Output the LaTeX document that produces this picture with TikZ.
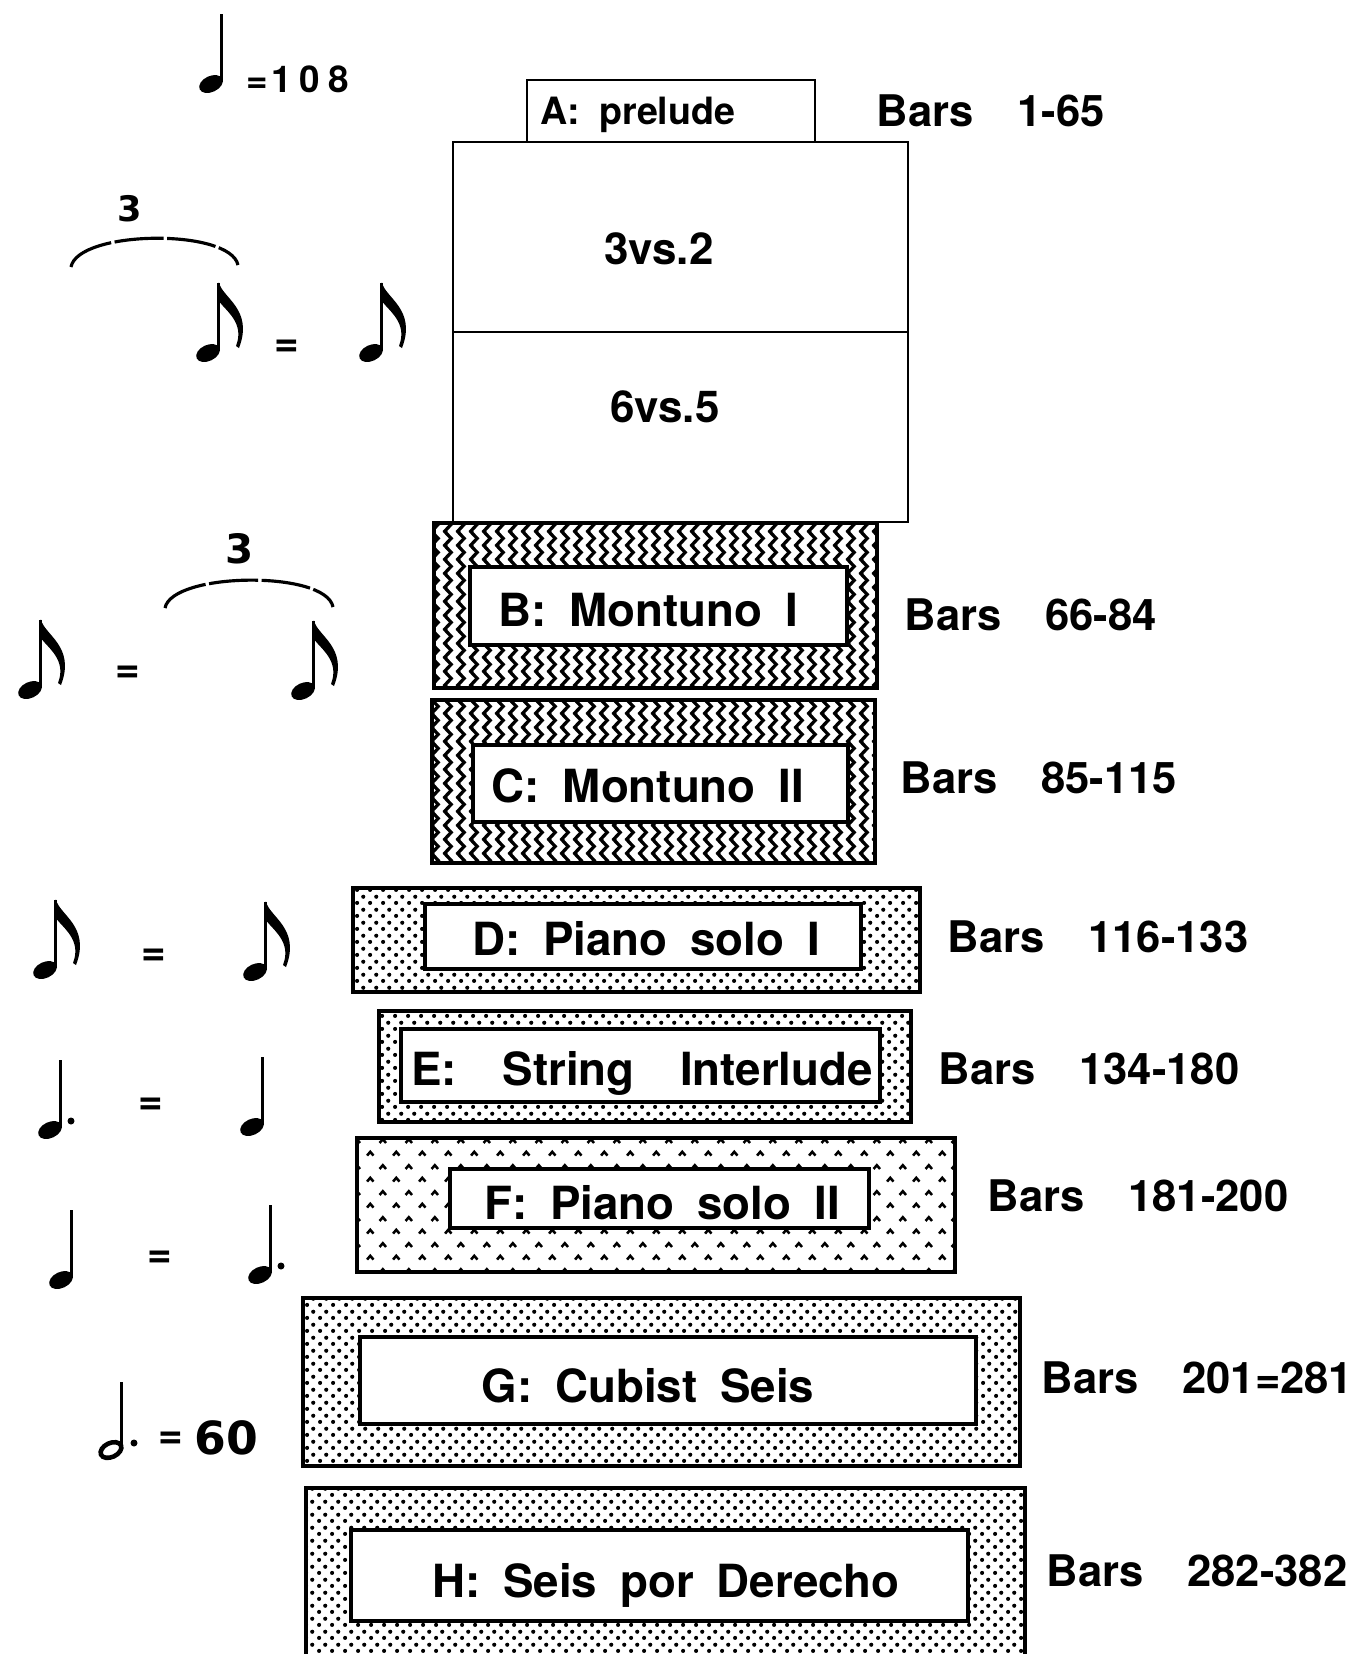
\documentclass[tikz,border=0pt]{standalone}
\usepackage{fontspec}
\setmainfont{TeX Gyre Heros}
\newfontfamily\tempofont{DejaVu Sans}
\usetikzlibrary{patterns}

% fill patterns of the bands
\pgfdeclarepatternformonly{montuno}{\pgfqpoint{0pt}{0pt}}{\pgfqpoint{3.7pt}{4pt}}{\pgfqpoint{3.7pt}{4pt}}{%
  \pgfsetlinewidth{1pt}%
  \pgfpathmoveto{\pgfqpoint{2.8pt}{-2pt}}%
  \pgfpathlineto{\pgfqpoint{0.9pt}{0pt}}%
  \pgfpathlineto{\pgfqpoint{2.8pt}{2pt}}%
  \pgfpathlineto{\pgfqpoint{0.9pt}{4pt}}%
  \pgfpathlineto{\pgfqpoint{2.8pt}{6pt}}%
  \pgfusepath{stroke}}
\pgfdeclarepatternformonly{sprinkle}{\pgfqpoint{0pt}{0pt}}{\pgfqpoint{3.6pt}{3.6pt}}{\pgfqpoint{3.6pt}{3.6pt}}{%
  \pgfpathcircle{\pgfqpoint{0.9pt}{0.9pt}}{0.6pt}%
  \pgfpathcircle{\pgfqpoint{2.7pt}{2.7pt}}{0.6pt}%
  \pgfusepath{fill}}
\pgfdeclarepatternformonly{carets}{\pgfqpoint{0pt}{0pt}}{\pgfqpoint{7.4pt}{7.4pt}}{\pgfqpoint{7.4pt}{7.4pt}}{%
  \pgfsetlinewidth{0.75pt}%
  \pgfpathmoveto{\pgfqpoint{0.9pt}{1.3pt}}%
  \pgfpathlineto{\pgfqpoint{1.85pt}{2.4pt}}%
  \pgfpathlineto{\pgfqpoint{2.8pt}{1.3pt}}%
  \pgfpathmoveto{\pgfqpoint{4.6pt}{5pt}}%
  \pgfpathlineto{\pgfqpoint{5.55pt}{6.1pt}}%
  \pgfpathlineto{\pgfqpoint{6.5pt}{5pt}}%
  \pgfusepath{stroke}}

\begin{document}
\begin{tikzpicture}[x=0.1mm,y=-0.1mm,
    lbl/.style={font={\bfseries\fontsize{#1}{#1}\selectfont\spaceskip=.5em\relax}, inner sep=0pt, anchor=base},
    lbl/.default=13,
    bars/.style={font={\bfseries\fontsize{12.4}{14}\selectfont\spaceskip=1em\relax}, inner sep=0pt, anchor=base west},
    eqsign/.style={font=\bfseries\fontsize{12}{14}\selectfont, inner sep=0pt},
    tupnum/.style={font={\tempofont\bfseries\fontsize{#1}{#1}\selectfont}, inner sep=0pt},
    thinbox/.style={line width=0.6pt},
    band/.style={line width=1.3pt},
    inbox/.style={fill=white, line width=1.1pt},
    tuparc/.style={line width=0.9pt, dash pattern=on 14pt off 1pt},
    stemline/.style={line width=0.85pt},
    quarter/.pic={
      \fill[rotate=25] (0,0) ellipse [x radius=12.5, y radius=8];
      \draw[stemline] (10.8,-2) -- (10.8,-70);},
    eighth/.pic={
      \pic {quarter};
      \fill (10.8,-71) .. controls (14,-55) and (46,-44) .. (31,-5) -- (28,-7)
        .. controls (37,-30) and (18,-42) .. (10.8,-52) -- cycle;},
    dotquarter/.pic={
      \pic {quarter};
      \fill (21,-9) circle [radius=3.5];},
    halfdot/.pic={
      \draw[line width=1.3pt, rotate=25] (0,0) ellipse [x radius=11, y radius=7];
      \draw[stemline] (10.5,-2) -- (10.5,-68);
      \fill (23,-7) circle [radius=3.5];}
  ]
  \useasboundingbox (0,0) rectangle (1364,1654);
  \clip (0,0) rectangle (1364,1654);

  % tempo changes, left column
  \pic (tempo) at (211,84) {quarter};
  \node[font={\bfseries\fontsize{10.5}{12}\selectfont}, inner sep=0pt, anchor=base west] (mm108) at (246,92) {=\kern1pt1\kern2.2pt0\kern2.2pt8};

  \node[tupnum=10] (tripA) at (130,209) {3};
  \draw[tuparc] (71,267) .. controls (78,230) and (230,228) .. (238,265);
  \pic (aL) at (208,353) {eighth};
  \node[eqsign] (eqA) at (287,348) {=};
  \pic (aR) at (371,353) {eighth};

  \node[tupnum=11.5] (tripB) at (240,549) {3};
  \draw[tuparc] (165,608) .. controls (172,572) and (326,570) .. (333,607);
  \pic (bL) at (30,690) {eighth};
  \node[eqsign] (eqB) at (128,674) {=};
  \pic (bR) at (303,691) {eighth};

  \pic (dL) at (45,970) {eighth};
  \node[eqsign] (eqD) at (154,957) {=};
  \pic (dR) at (255,972) {eighth};

  \pic (eL) at (50,1130) {dotquarter};
  \node[eqsign] (eqE) at (151,1106) {=};
  \pic (eR) at (252,1127) {quarter};

  \pic (fL) at (61,1280) {quarter};
  \node[eqsign] (eqF) at (160,1259) {=};
  \pic (fR) at (260,1275) {dotquarter};

  \pic (gL) at (111,1450) {halfdot};
  \node[eqsign] (eqG) at (171,1440) {=};
  \node[tupnum=13] (mm60) at (226,1438) {60};

  % sections
  \draw[thinbox] (527,80) rectangle (815,142);
  \draw[thinbox] (453,142) rectangle (908,522);
  \draw[thinbox] (453,332) -- (908,332);
  \node[lbl=10.7] (secA) at (638,124) {A: prelude};
  \node[lbl=12.5] (ratioA) at (659,264) {3vs.2};
  \node[lbl=12.5] (ratioB) at (665,422) {6vs.5};
  \node[bars] (barsA) at (876,126) {Bars 1-65};

  \draw[band, pattern=montuno] (434,523) rectangle (877,688);
  \draw[inbox] (470,567) rectangle (847,645);
  \node[lbl] (secB) at (648,626) {B: Montuno I};
  \node[bars] (barsB) at (904,630) {Bars 66-84};

  \draw[band, pattern=montuno] (432,700) rectangle (875,863);
  \draw[inbox] (473,745) rectangle (848,822);
  \node[lbl] (secC) at (648,802) {C: Montuno II};
  \node[bars] (barsC) at (900,793) {Bars 85-115};

  \draw[band, pattern=sprinkle] (353,888) rectangle (920,992);
  \draw[inbox] (425,904) rectangle (861,969);
  \node[lbl] (secD) at (646,955) {D: Piano solo I};
  \node[bars] (barsD) at (947,952) {Bars 116-133};

  \draw[band, pattern=sprinkle] (379,1011) rectangle (911,1122);
  \draw[inbox] (401,1029) rectangle (880,1102);
  \node[lbl] (secE) at (642,1085) {E:\ \ String\ \ Interlude};
  \node[bars] (barsE) at (938,1084) {Bars 134-180};

  \draw[band, pattern=carets] (357,1138) rectangle (955,1272);
  \draw[inbox] (450,1169) rectangle (869,1228);
  \node[lbl] (secF) at (662,1219) {F: Piano solo II};
  \node[bars] (barsF) at (987,1211) {Bars 181-200};

  \draw[band, pattern=sprinkle] (303,1298) rectangle (1020,1466);
  \draw[inbox] (360,1337) rectangle (976,1424);
  \node[lbl] (secG) at (648,1402) {G: Cubist Seis};
  \node[bars] (barsG) at (1041,1393) {Bars 201=281};

  \draw[band, pattern=sprinkle] (306,1488) rectangle (1025,1700);
  \draw[inbox] (351,1530) rectangle (968,1621);
  \node[lbl] (secH) at (666,1597) {H: Seis por Derecho};
  \node[bars] (barsH) at (1046,1586) {Bars 282-382};
\end{tikzpicture}
\end{document}
